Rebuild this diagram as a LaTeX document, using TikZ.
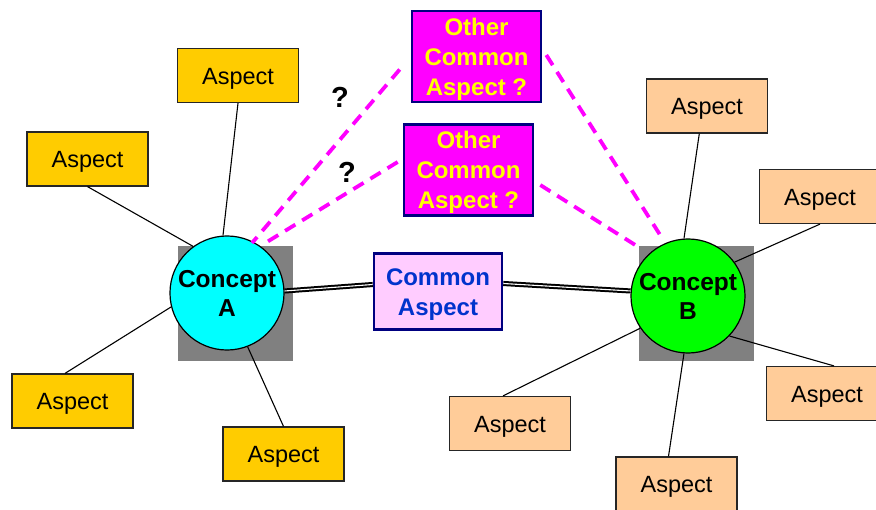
\documentclass[tikz,border=0pt]{standalone}
\usepackage{fontspec}
\setmainfont{Liberation Sans}
\newcommand\lowtxt[1]{\raisebox{-3pt}[\height][\depth]{\begin{tabular}{@{}c@{}}#1\end{tabular}}}
\begin{document}
\begin{tikzpicture}[x=1pt,y=-1pt,
  aspY/.style={draw=black!85,line width=1.2pt,fill=asY,minimum width=121pt,minimum height=54pt,inner sep=0pt,font=\fontsize{23.5}{28}\selectfont},
  aspO/.style={aspY,fill=asO},
  other/.style={draw=navy,line width=2.6pt,fill=magenta,text=yellow,minimum width=129pt,minimum height=91pt,inner sep=0pt,font=\fontsize{24}{30}\selectfont\bfseries},
  common/.style={draw=navy,line width=2.6pt,fill=pinkish,text=cblue,minimum width=128pt,minimum height=76pt,inner sep=0pt,font=\fontsize{24}{30}\selectfont\bfseries},
  concept/.style={circle,draw=black,line width=1.2pt,inner sep=0pt,font=\fontsize{24.5}{29.5}\selectfont\bfseries},
  graysq/.style={fill=gray50,draw=none},
  thin/.style={draw=black,line width=1.1pt},
  dashmag/.style={draw=magenta,line width=3.8pt,dash pattern=on 12pt off 8pt},
  dbl/.style={draw=black,double=white,line width=2pt,double distance=1.1pt},
  qmark/.style={font=\fontsize{29}{30}\selectfont\bfseries,inner sep=0pt}
]
\definecolor{asY}{HTML}{FFCC00}
\definecolor{asO}{HTML}{FFCC99}
\definecolor{navy}{HTML}{000080}
\definecolor{magenta}{HTML}{FF00FF}
\definecolor{yellow}{HTML}{FFFF00}
\definecolor{pinkish}{HTML}{FFCCFF}
\definecolor{cblue}{HTML}{0033CC}
\definecolor{gray50}{HTML}{808080}
\definecolor{cyanc}{HTML}{00FFFF}
\definecolor{greenc}{HTML}{00FF00}
\useasboundingbox (0,0) rectangle (876,510);
\fill[white] (0,0) rectangle (876,510);

% gray squares
\path[graysq] (178,246) rectangle (293,361);
\path[graysq] (639,246) rectangle (754,361);

% nodes
\node[aspY] (y1) at (238,75.5) {\lowtxt{Aspect}};
\node[aspY] (y2) at (87.5,159) {\lowtxt{Aspect}};
\node[aspY] (y3) at (72.5,401) {\lowtxt{Aspect}};
\node[aspY] (y4) at (283.5,454) {\lowtxt{Aspect}};
\node[aspO] (o1) at (707,106) {\lowtxt{Aspect}};
\node[aspO] (o2) at (820,196.5) {\lowtxt{Aspect}};
\node[aspO] (o3) at (827,393.5) {\lowtxt{Aspect}};
\node[aspO] (o4) at (510,423.5) {\lowtxt{Aspect}};
\node[aspO] (o5) at (676.5,484) {\lowtxt{Aspect}};
\node[other] (ot1) at (476.5,56.5) {\lowtxt{Other\\Common\\Aspect ?}};
\node[other] (ot2) at (468.5,170) {\lowtxt{Other\\Common\\Aspect ?}};
\node[common] (cm) at (438,291.5) {\lowtxt{Common\\Aspect}};
\node[concept,fill=cyanc,minimum size=114pt] (ca) at (227,293) {\lowtxt{Concept\\A}};
\node[concept,fill=greenc,minimum size=112pt] (cb) at (688,296) {\lowtxt{Concept\\B}};
\node[qmark] (q1) at (340,97) {?};
\node[qmark] (q2) at (347,172) {?};

% connectors
\draw[thin] (y1.south) -- (ca.94);
\draw[thin] (y2.south) -- (ca.126);
\draw[thin] ([xshift=-7.5pt]y3.north) -- (ca.194);
\draw[thin] (y4.north) -- (ca.291);
\draw[thin] ([xshift=-7.7pt]o1.south) -- (cb.94);
\draw[thin] (o2.south) -- (cb.36);
\draw[thin] ([xshift=7pt]o3.north) -- (cb.316);
\draw[thin] ([xshift=-7pt]o4.north) -- (cb.214);
\draw[thin] ([xshift=-8pt]o5.north) -- (cb.266);

\draw[dbl] (ca.2) -- ([yshift=7pt]cm.west);
\draw[dbl] ([yshift=8pt]cm.east) -- (cb.175);

\coordinate (d1a) at ([xshift=-11pt,yshift=-13pt]ot1.west);
\coordinate (d1b) at ([xshift=4pt,yshift=1.5pt]ot1.east);
\coordinate (d2a) at ([xshift=-5pt,yshift=8pt]ot2.west);
\coordinate (d2b) at ([xshift=6pt,yshift=-15pt]ot2.east);
\coordinate (ea1) at (252,243);
\coordinate (ea2) at (262,245);
\coordinate (eb1) at (662,238);
\coordinate (eb2) at (640,248);
\draw[dashmag] (d1a) -- (ea1);
\draw[dashmag] (d2a) -- (ea2);
\draw[dashmag] (d1b) -- (eb1);
\draw[dashmag] (d2b) -- (eb2);
\end{tikzpicture}
\end{document}
